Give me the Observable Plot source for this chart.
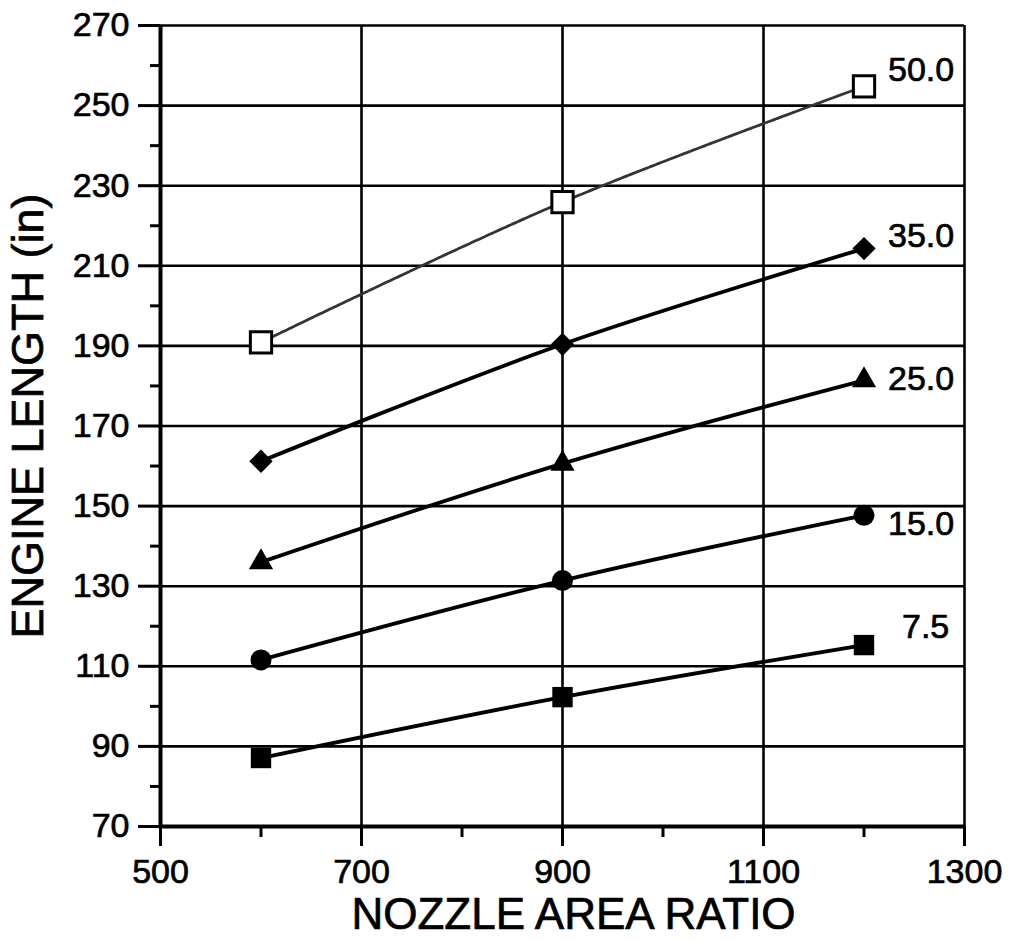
<!DOCTYPE html>
<html>
<head>
<meta charset="utf-8">
<script src="https://cdn.jsdelivr.net/npm/d3@7"></script>
<script src="https://cdn.jsdelivr.net/npm/@observablehq/plot@0.6"></script>
<style>
  html, body { margin: 0; padding: 0; background: #fff; }
  #chart svg { display: block; }
  #chart svg text { stroke: black; stroke-width: 0.7px; }
</style>
</head>
<body>
<div id="chart"></div>
<script>
// ---- data ----
const nozzleAreaRatios = [600, 900, 1200];
const seriesLabels = ["50.0", "35.0", "25.0", "15.0", "7.5"];
const length50 = [190.9, 225.9, 254.8];
const length35 = [161.2, 190.4, 214.3];
const length25 = [136.0, 160.6, 181.4];
const length15 = [111.6, 131.4, 147.7];
const length7_5 = [87.1, 102.3, 115.3];
const xTickValues = [500, 700, 900, 1100, 1300];
const xMinorTicks = [600, 800, 1000, 1200];
const yTickValues = [70, 90, 110, 130, 150, 170, 190, 210, 230, 250, 270];
const yMinorTicks = [80, 100, 120, 140, 160, 180, 200, 220, 240, 260];
const xTitle = "NOZZLE AREA RATIO";
const yTitle = "ENGINE LENGTH (in)";

// ---- build rows ----
const seriesValues = [length50, length35, length25, length15, length7_5];
const rows = [];
seriesLabels.forEach((s, i) => {
  nozzleAreaRatios.forEach((x, j) => rows.push({series: s, x, y: seriesValues[i][j]}));
});
const bySeries = s => rows.filter(d => d.series === s);
const lastPoints = seriesLabels.map(s => bySeries(s)[bySeries(s).length - 1]);

// ---- styling per series (not data) ----
const markerStyle = {
  "50.0": {symbol: "square", r: 12, fill: "white", stroke: "black", strokeWidth: 3},
  "35.0": {symbol: "diamond2", r: 10.5, fill: "black", stroke: "none"},
  "25.0": {symbol: "triangle", r: 9, fill: "black", stroke: "none"},
  "15.0": {symbol: "circle", r: 10.5, fill: "black", stroke: "none"},
  "7.5":  {symbol: "square", r: 11.5, fill: "black", stroke: "none"}
};
const labelOffset = {
  "50.0": [24, -16], "35.0": [24, -12], "25.0": [24, -1], "15.0": [24, 9], "7.5": [38, -18]
};

const font = "'Liberation Sans', Arial, Helvetica, sans-serif";
const fmt = d => String(d);

const marks = [
  // grid
  Plot.gridX(xTickValues, {stroke: "black", strokeOpacity: 1, strokeWidth: 2.6}),
  Plot.gridY(yTickValues, {stroke: "black", strokeOpacity: 1, strokeWidth: 2.6}),
  // axes
  Plot.axisY(yTickValues, {anchor: "left", tickSize: 22, tickPadding: 9, fontSize: 34, strokeWidth: 3, label: null, tickFormat: fmt}),
  Plot.axisY(yMinorTicks, {anchor: "left", tickSize: 10, strokeWidth: 3, label: null, tickFormat: () => ""}),
  Plot.axisX(xTickValues, {anchor: "bottom", tickSize: 20, tickPadding: 12, fontSize: 34, strokeWidth: 3, label: null, tickFormat: fmt}),
  Plot.axisX(xMinorTicks, {anchor: "bottom", tickSize: 11, strokeWidth: 3, label: null, tickFormat: () => ""}),
  Plot.ruleX([500], {stroke: "black", strokeWidth: 4}),
  Plot.ruleY([70], {stroke: "black", strokeWidth: 4}),
  // lines
  Plot.line(bySeries("50.0"), {x: "x", y: "y", curve: "catmull-rom", stroke: "#333", strokeWidth: 2.8, strokeDasharray: "6,1.5"}),
  ...seriesLabels.slice(1).map(s =>
    Plot.line(bySeries(s), {x: "x", y: "y", curve: "catmull-rom", stroke: "black", strokeWidth: 3.8})
  ),
  // markers
  ...seriesLabels.map(s => Plot.dot(bySeries(s), {x: "x", y: "y", ...markerStyle[s]})),
  // series labels
  ...lastPoints.map(d => Plot.text([d], {
    x: "x", y: "y", text: "series", textAnchor: "start",
    dx: labelOffset[d.series][0], dy: labelOffset[d.series][1],
    fontSize: 34, fill: "black"
  })),
  // axis titles
  Plot.text([xTitle], {frameAnchor: "bottom", textAnchor: "middle", text: d => d, dy: 102, dx: 11, fontSize: 44, fill: "black"}),
  Plot.text([yTitle], {frameAnchor: "left", textAnchor: "middle", text: d => d, rotate: -90, dx: -132, dy: -10, fontSize: 45, fill: "black"})
];

const chart = Plot.plot({
  width: 1010,
  height: 941,
  marginLeft: 160,
  marginRight: 46,
  marginTop: 25,
  marginBottom: 115,
  x: {domain: [500, 1300], axis: null},
  y: {domain: [70, 270], axis: null},
  style: {fontFamily: font, color: "black", background: "white", overflow: "visible"},
  marks
});
document.getElementById("chart").appendChild(chart);
</script>
</body>
</html>
